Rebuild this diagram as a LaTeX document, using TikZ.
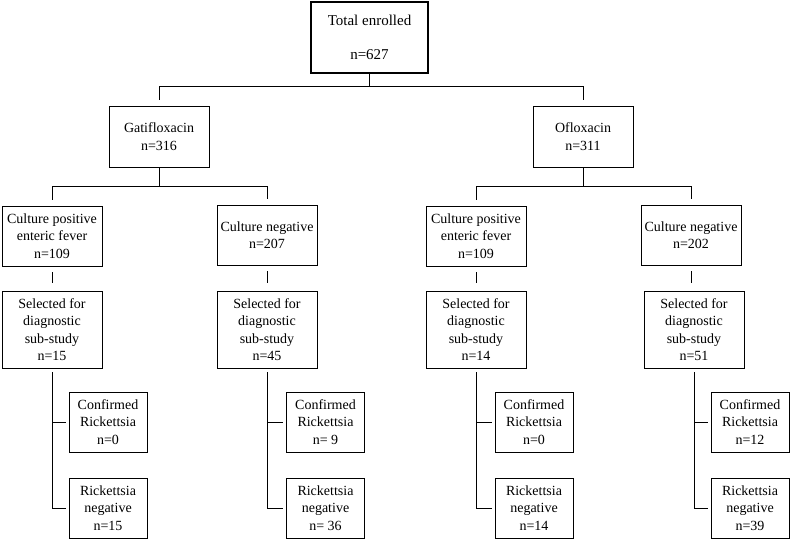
\documentclass[tikz,border=0pt]{standalone}
\usepackage{fontspec}
\setmainfont{Liberation Serif}
\begin{document}
\begin{tikzpicture}[x=1pt,y=-1pt,
  box/.style={draw,line width=0.8pt,inner sep=1pt,align=center,
    font=\fontsize{14}{17.5}\selectfont},
  topbox/.style={box,line width=2pt,minimum width=117pt,minimum height=71pt,
    font=\fontsize{15}{17.5}\selectfont},
  midbox/.style={box,minimum width=100pt,minimum height=61pt},
  cbox/.style={box,minimum width=100pt,minimum height=60pt},
  sbox/.style={box,minimum width=100pt,minimum height=77pt},
  rbox/.style={box,minimum width=78pt,minimum height=60pt},
  link/.style={line width=0.8pt}]
\useasboundingbox[fill=white] (0,0) rectangle (791,540);

\node[topbox] (total) at (369.5,37.5) {Total enrolled\\[17pt]n=627};

\node[midbox] (gati) at (159,136.5) {Gatifloxacin\\n=316};
\node[midbox] (oflo) at (583,136.5) {Ofloxacin\\n=311};

\node[cbox] (cp1) at (52,236) {Culture positive\\enteric fever\\n=109};
\node[cbox] (cn1) at (267,235) {Culture negative\\n=207};
\node[cbox] (cp2) at (476,236) {Culture positive\\enteric fever\\n=109};
\node[cbox] (cn2) at (691,235) {Culture negative\\n=202};

\node[sbox] (sel1) at (52,329.5) {Selected for\\diagnostic\\sub-study\\n=15};
\node[sbox] (sel2) at (267,329.5) {Selected for\\diagnostic\\sub-study\\n=45};
\node[sbox] (sel3) at (476,329.5) {Selected for\\diagnostic\\sub-study\\n=14};
\node[sbox] (sel4) at (694,329.5) {Selected for\\diagnostic\\sub-study\\n=51};

\node[rbox] (conf1) at (108,422) {Confirmed\\Rickettsia\\n=0};
\node[rbox] (rn1) at (108,508) {Rickettsia\\negative\\n=15};
\node[rbox] (conf2) at (325.5,422) {Confirmed\\Rickettsia\\n= 9};
\node[rbox] (rn2) at (325.5,508) {Rickettsia\\negative\\n= 36};
\node[rbox] (conf3) at (534,422) {Confirmed\\Rickettsia\\n=0};
\node[rbox] (rn3) at (534,508) {Rickettsia\\negative\\n=14};
\node[rbox] (conf4) at (750,422) {Confirmed\\Rickettsia\\n=12};
\node[rbox] (rn4) at (750,508) {Rickettsia\\negative\\n=39};

% top level
\draw[link,shorten >=6pt] (total.south) -- ++(0,12) -| (gati.north);
\draw[link,shorten >=6pt] (total.south) -- ++(0,12) -| (oflo.north);
% second level
\draw[link,shorten >=6pt] (gati.south) -- ++(0,19) -| (cp1.north);
\draw[link,shorten >=6pt] (gati.south) -- ++(0,19) -| (cn1.north);
\draw[link,shorten >=6pt] (oflo.south) -- ++(0,19) -| (cp2.north);
\draw[link,shorten >=6pt] (oflo.south) -- ++(0,19) -| (cn2.north);
% culture to selected
\draw[link,shorten <=6pt,shorten >=8pt] (cp1.south) -- (cp1.south |- sel1.north);
\draw[link,shorten <=6pt,shorten >=8pt] (cn1.south) -- (cn1.south |- sel2.north);
\draw[link,shorten <=6pt,shorten >=8pt] (cp2.south) -- (cp2.south |- sel3.north);
\draw[link,shorten <=6pt,shorten >=8pt] (cn2.south) -- (cn2.south |- sel4.north);
% selected to results
\draw[link,shorten <=4pt,shorten >=3pt] (sel1.south) |- (rn1.west);
\draw[link,shorten >=3pt] (sel1.south |- conf1.west) -- (conf1.west);
\draw[link,shorten <=4pt,shorten >=3pt] (sel2.south) |- (rn2.west);
\draw[link,shorten >=3pt] (sel2.south |- conf2.west) -- (conf2.west);
\draw[link,shorten <=4pt,shorten >=3pt] (sel3.south) |- (rn3.west);
\draw[link,shorten >=3pt] (sel3.south |- conf3.west) -- (conf3.west);
\draw[link,shorten <=4pt,shorten >=3pt] (sel4.south) |- (rn4.west);
\draw[link,shorten >=3pt] (sel4.south |- conf4.west) -- (conf4.west);
\end{tikzpicture}
\end{document}
